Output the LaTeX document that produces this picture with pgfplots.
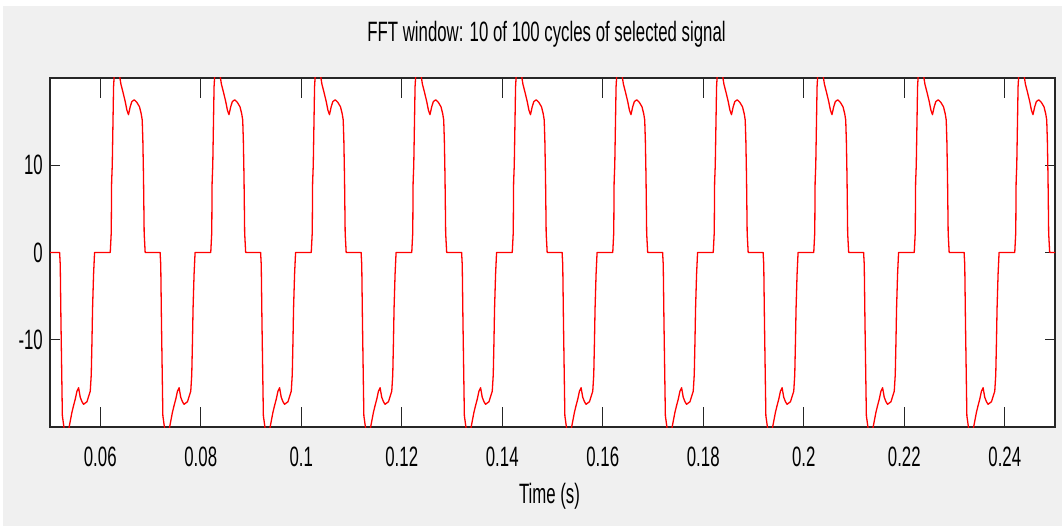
\documentclass[border=0pt]{standalone}
\usepackage{fontspec}
\setmainfont{Liberation Sans}[FakeStretch=0.6]
\usepackage{pgfplots}
\pgfplotsset{compat=1.18}
\usetikzlibrary{backgrounds,calc}
\definecolor{bg}{RGB}{240,240,240}
\definecolor{frame}{RGB}{38,38,38}

\begin{document}
\begin{tikzpicture}
\begin{axis}[
  name=ax,
  width=1005pt, height=349pt, scale only axis,
  xmin=50, xmax=250, ymin=-20, ymax=20,
  axis background/.style={fill=white},
  axis line style={frame, line width=1.4pt},
  tick align=inside,
  xtick={60,80,100,120,140,160,180,200,220,240},
  xticklabels={0.06,0.08,0.1,0.12,0.14,0.16,0.18,0.2,0.22,0.24},
  ytick={-10,0,10},
  yticklabels={-10,0,10},
  xtick style={frame, line width=1.2pt, /pgfplots/major tick length=20pt},
  ytick style={frame, line width=1.2pt, /pgfplots/major tick length=10pt},
  every tick label/.append style={font=\fontsize{28}{30}\selectfont, inner sep=0pt},
  xticklabel style={anchor=base, yshift=-39pt},
  yticklabel style={anchor=east, xshift=-7pt},
  title={FFT window: 10 of 100 cycles of selected signal},
  title style={font=\fontsize{28}{30}\selectfont, at={(0.5,1)}, anchor=base, yshift=30pt, xshift=-6pt, inner sep=0pt},
  xlabel={Time (s)},
  xlabel style={font=\fontsize{28}{30}\selectfont, at={(0.5,0)}, anchor=base, yshift=-76pt, xshift=-3pt, inner sep=0pt},
]
% time in ms, tick labels in s
\addplot[red, line width=1.3pt, line join=round] coordinates {
(50,0)
(51.91,0) (52.04,-1.4) (52.18,-7.9) (52.46,-18.7) (52.84,-20.3) (53.71,-20.3) (54.37,-18.3) (54.71,-17.5) (55.03,-16.8) (55.36,-15.9) (55.69,-15.5) (56.02,-16.6) (56.36,-17.1) (56.68,-17.4) (57.36,-17.1) (57.68,-16.5) (58.01,-15.9) (58.21,-14.0) (58.35,-10.2) (58.47,-6.4) (58.67,-2.5) (58.87,0)
(61.99,0) (62.19,2.3) (62.26,8.0) (62.39,10.0) (62.65,19.0) (62.78,20.3) (63.84,20.3) (64.11,19.3) (64.51,18.4) (64.97,17.3) (65.31,16.3) (65.62,15.8) (65.96,16.7) (66.29,17.3) (66.76,17.5) (67.29,17.2) (67.81,16.7) (68.15,15.9) (68.35,15.2) (68.48,12.8) (68.61,8.6) (68.74,2.2) (68.94,0)
(71.91,0) (72.04,-1.4) (72.18,-7.9) (72.46,-18.7) (72.84,-20.3) (73.71,-20.3) (74.37,-18.3) (74.71,-17.5) (75.03,-16.8) (75.36,-15.9) (75.69,-15.5) (76.02,-16.6) (76.36,-17.1) (76.68,-17.4) (77.36,-17.1) (77.68,-16.5) (78.01,-15.9) (78.21,-14.0) (78.35,-10.2) (78.47,-6.4) (78.67,-2.5) (78.87,0)
(81.99,0) (82.19,2.3) (82.26,8.0) (82.39,10.0) (82.65,19.0) (82.78,20.3) (83.84,20.3) (84.11,19.3) (84.51,18.4) (84.97,17.3) (85.31,16.3) (85.62,15.8) (85.96,16.7) (86.29,17.3) (86.76,17.5) (87.29,17.2) (87.81,16.7) (88.15,15.9) (88.35,15.2) (88.48,12.8) (88.61,8.6) (88.74,2.2) (88.94,0)
(91.91,0) (92.04,-1.4) (92.18,-7.9) (92.46,-18.7) (92.84,-20.3) (93.71,-20.3) (94.37,-18.3) (94.71,-17.5) (95.03,-16.8) (95.36,-15.9) (95.69,-15.5) (96.02,-16.6) (96.36,-17.1) (96.68,-17.4) (97.36,-17.1) (97.68,-16.5) (98.01,-15.9) (98.21,-14.0) (98.35,-10.2) (98.47,-6.4) (98.67,-2.5) (98.87,0)
(101.99,0) (102.19,2.3) (102.26,8.0) (102.39,10.0) (102.65,19.0) (102.78,20.3) (103.84,20.3) (104.11,19.3) (104.51,18.4) (104.97,17.3) (105.31,16.3) (105.62,15.8) (105.96,16.7) (106.29,17.3) (106.76,17.5) (107.29,17.2) (107.81,16.7) (108.15,15.9) (108.35,15.2) (108.48,12.8) (108.61,8.6) (108.74,2.2) (108.94,0)
(111.91,0) (112.04,-1.4) (112.18,-7.9) (112.46,-18.7) (112.84,-20.3) (113.71,-20.3) (114.37,-18.3) (114.71,-17.5) (115.03,-16.8) (115.36,-15.9) (115.69,-15.5) (116.02,-16.6) (116.36,-17.1) (116.68,-17.4) (117.36,-17.1) (117.68,-16.5) (118.01,-15.9) (118.21,-14.0) (118.35,-10.2) (118.47,-6.4) (118.67,-2.5) (118.87,0)
(121.99,0) (122.19,2.3) (122.26,8.0) (122.39,10.0) (122.65,19.0) (122.78,20.3) (123.84,20.3) (124.11,19.3) (124.51,18.4) (124.97,17.3) (125.31,16.3) (125.62,15.8) (125.96,16.7) (126.29,17.3) (126.76,17.5) (127.29,17.2) (127.81,16.7) (128.15,15.9) (128.35,15.2) (128.48,12.8) (128.61,8.6) (128.74,2.2) (128.94,0)
(131.91,0) (132.04,-1.4) (132.18,-7.9) (132.46,-18.7) (132.84,-20.3) (133.71,-20.3) (134.37,-18.3) (134.71,-17.5) (135.03,-16.8) (135.36,-15.9) (135.69,-15.5) (136.02,-16.6) (136.36,-17.1) (136.68,-17.4) (137.36,-17.1) (137.68,-16.5) (138.01,-15.9) (138.21,-14.0) (138.35,-10.2) (138.47,-6.4) (138.67,-2.5) (138.87,0)
(141.99,0) (142.19,2.3) (142.26,8.0) (142.39,10.0) (142.65,19.0) (142.78,20.3) (143.84,20.3) (144.11,19.3) (144.51,18.4) (144.97,17.3) (145.31,16.3) (145.62,15.8) (145.96,16.7) (146.29,17.3) (146.76,17.5) (147.29,17.2) (147.81,16.7) (148.15,15.9) (148.35,15.2) (148.48,12.8) (148.61,8.6) (148.74,2.2) (148.94,0)
(151.91,0) (152.04,-1.4) (152.18,-7.9) (152.46,-18.7) (152.84,-20.3) (153.71,-20.3) (154.37,-18.3) (154.71,-17.5) (155.03,-16.8) (155.36,-15.9) (155.69,-15.5) (156.02,-16.6) (156.36,-17.1) (156.68,-17.4) (157.36,-17.1) (157.68,-16.5) (158.01,-15.9) (158.21,-14.0) (158.35,-10.2) (158.47,-6.4) (158.67,-2.5) (158.87,0)
(161.99,0) (162.19,2.3) (162.26,8.0) (162.39,10.0) (162.65,19.0) (162.78,20.3) (163.84,20.3) (164.11,19.3) (164.51,18.4) (164.97,17.3) (165.31,16.3) (165.62,15.8) (165.96,16.7) (166.29,17.3) (166.76,17.5) (167.29,17.2) (167.81,16.7) (168.15,15.9) (168.35,15.2) (168.48,12.8) (168.61,8.6) (168.74,2.2) (168.94,0)
(171.91,0) (172.04,-1.4) (172.18,-7.9) (172.46,-18.7) (172.84,-20.3) (173.71,-20.3) (174.37,-18.3) (174.71,-17.5) (175.03,-16.8) (175.36,-15.9) (175.69,-15.5) (176.02,-16.6) (176.36,-17.1) (176.68,-17.4) (177.36,-17.1) (177.68,-16.5) (178.01,-15.9) (178.21,-14.0) (178.35,-10.2) (178.47,-6.4) (178.67,-2.5) (178.87,0)
(181.99,0) (182.19,2.3) (182.26,8.0) (182.39,10.0) (182.65,19.0) (182.78,20.3) (183.84,20.3) (184.11,19.3) (184.51,18.4) (184.97,17.3) (185.31,16.3) (185.62,15.8) (185.96,16.7) (186.29,17.3) (186.76,17.5) (187.29,17.2) (187.81,16.7) (188.15,15.9) (188.35,15.2) (188.48,12.8) (188.61,8.6) (188.74,2.2) (188.94,0)
(191.91,0) (192.04,-1.4) (192.18,-7.9) (192.46,-18.7) (192.84,-20.3) (193.71,-20.3) (194.37,-18.3) (194.71,-17.5) (195.03,-16.8) (195.36,-15.9) (195.69,-15.5) (196.02,-16.6) (196.36,-17.1) (196.68,-17.4) (197.36,-17.1) (197.68,-16.5) (198.01,-15.9) (198.21,-14.0) (198.35,-10.2) (198.47,-6.4) (198.67,-2.5) (198.87,0)
(201.99,0) (202.19,2.3) (202.26,8.0) (202.39,10.0) (202.65,19.0) (202.78,20.3) (203.84,20.3) (204.11,19.3) (204.51,18.4) (204.97,17.3) (205.31,16.3) (205.62,15.8) (205.96,16.7) (206.29,17.3) (206.76,17.5) (207.29,17.2) (207.81,16.7) (208.15,15.9) (208.35,15.2) (208.48,12.8) (208.61,8.6) (208.74,2.2) (208.94,0)
(211.91,0) (212.04,-1.4) (212.18,-7.9) (212.46,-18.7) (212.84,-20.3) (213.71,-20.3) (214.37,-18.3) (214.71,-17.5) (215.03,-16.8) (215.36,-15.9) (215.69,-15.5) (216.02,-16.6) (216.36,-17.1) (216.68,-17.4) (217.36,-17.1) (217.68,-16.5) (218.01,-15.9) (218.21,-14.0) (218.35,-10.2) (218.47,-6.4) (218.67,-2.5) (218.87,0)
(221.99,0) (222.19,2.3) (222.26,8.0) (222.39,10.0) (222.65,19.0) (222.78,20.3) (223.84,20.3) (224.11,19.3) (224.51,18.4) (224.97,17.3) (225.31,16.3) (225.62,15.8) (225.96,16.7) (226.29,17.3) (226.76,17.5) (227.29,17.2) (227.81,16.7) (228.15,15.9) (228.35,15.2) (228.48,12.8) (228.61,8.6) (228.74,2.2) (228.94,0)
(231.91,0) (232.04,-1.4) (232.18,-7.9) (232.46,-18.7) (232.84,-20.3) (233.71,-20.3) (234.37,-18.3) (234.71,-17.5) (235.03,-16.8) (235.36,-15.9) (235.69,-15.5) (236.02,-16.6) (236.36,-17.1) (236.68,-17.4) (237.36,-17.1) (237.68,-16.5) (238.01,-15.9) (238.21,-14.0) (238.35,-10.2) (238.47,-6.4) (238.67,-2.5) (238.87,0)
(241.99,0) (242.19,2.3) (242.26,8.0) (242.39,10.0) (242.65,19.0) (242.78,20.3) (243.84,20.3) (244.11,19.3) (244.51,18.4) (244.97,17.3) (245.31,16.3) (245.62,15.8) (245.96,16.7) (246.29,17.3) (246.76,17.5) (247.29,17.2) (247.81,16.7) (248.15,15.9) (248.35,15.2) (248.48,12.8) (248.61,8.6) (248.74,2.2) (248.94,0)
(250,0)
};
\end{axis}
\begin{scope}[on background layer]
\fill[white] ($(ax.south west)+(-50pt,-99pt)$) rectangle ($(ax.north east)+(7pt,78pt)$);
\fill[bg] ($(ax.south west)+(-47pt,-99pt)$) rectangle ($(ax.north east)+(7pt,72pt)$);
\end{scope}
\end{tikzpicture}
\end{document}
